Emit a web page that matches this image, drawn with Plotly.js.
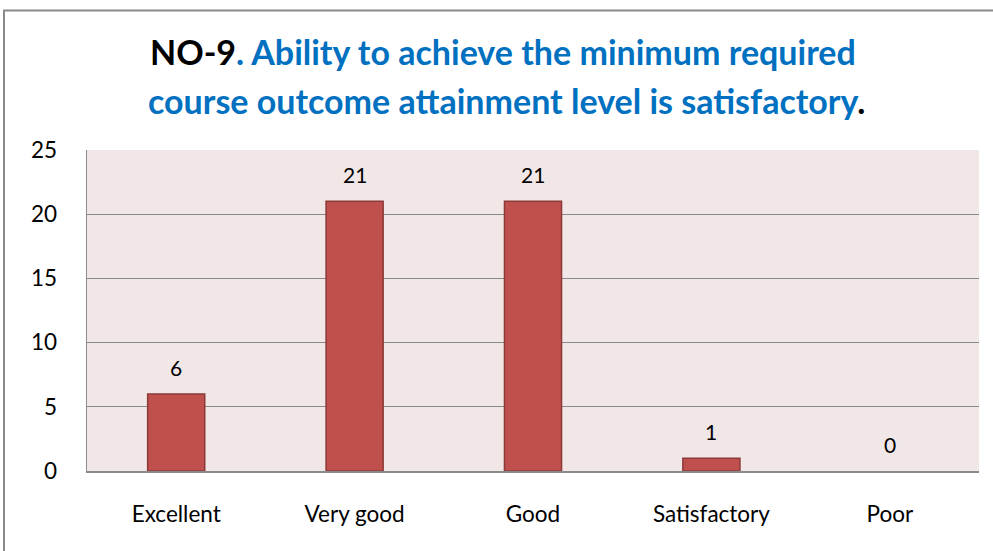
<!DOCTYPE html>
<html><head><meta charset="utf-8">
<script src="https://cdn.plot.ly/plotly-3.0.1.min.js"></script>
<style>body{margin:0;background:#fff}#c{width:993px;height:551px}</style>
</head><body><div id="c"></div>
<script>
const categories = ["Excellent", "Very good", "Good", "Satisfactory", "Poor"];
const counts = [6, 21, 21, 1, 0];
const yTicks = [0, 5, 10, 15, 20, 25];
const titleLines = [
  "<b>NO-9<span style='color:#0070C0'>. Ability to achieve the minimum required</span></b>",
  "<b><span style='color:#0070C0'>course outcome attainment level is satisfactory</span>.</b>"
];

const W = 993, H = 551, L = 87, R = 14, T = 150, B = 80;
const pw = W - L - R, ph = H - T - B;
const px = v => (v - L) / pw;
const py = v => 1 - (v - T) / ph;
const FONT = "Lato, 'Open Sans', sans-serif";

const trace = {
  type: "bar", x: categories, y: counts, width: 0.32,
  marker: {color: "#C0504D", line: {color: "#8C3A38", width: counts.map(v => v > 0 ? 1.5 : 0)}},
  hoverinfo: "skip"
};

const annotations = categories.map((c, i) => ({
  x: c, y: counts[i], xref: "x", yref: "y", text: String(counts[i]),
  showarrow: false, yanchor: "bottom", yshift: 12,
  font: {family: FONT, size: 21, color: "#000"}
}));
const titleY = [52, 100];
const titleX = [503, 506];
titleLines.forEach((t, i) => annotations.push({
  xref: "paper", yref: "paper", x: px(titleX[i]), y: py(titleY[i]), xanchor: "center", yanchor: "middle",
  showarrow: false, text: t,
  font: {family: FONT, size: 34, color: "#000"}
}));

const layout = {
  width: W, height: H,
  margin: {l: L, r: R, t: T, b: B, pad: 0},
  paper_bgcolor: "#fff", plot_bgcolor: "#F2E7E7",
  showlegend: false,
  xaxis: {
    type: "category", showgrid: false, zeroline: false,
    showline: true, linecolor: "#8A8A8A", linewidth: 2,
    ticks: "", ticklabelstandoff: 22,
    tickfont: {family: FONT, size: 22.5, color: "#000"},
    fixedrange: true
  },
  yaxis: {
    range: [0, 25], tickvals: yTicks, ticktext: yTicks.map(String),
    showgrid: true, gridcolor: "#8A8A8A", gridwidth: 1,
    zeroline: false, showline: true, linecolor: "#8A8A8A", linewidth: 1.5,
    ticks: "", ticklabelstandoff: 24,
    tickfont: {family: FONT, size: 22.5, color: "#000"},
    fixedrange: true
  },
  annotations: annotations,
  shapes: [{
    type: "rect", xref: "paper", yref: "paper",
    x0: px(4), x1: px(1000), y0: py(560), y1: py(10.5),
    line: {color: "#8A8A8A", width: 2}, fillcolor: "rgba(0,0,0,0)", layer: "above"
  }]
};
Plotly.newPlot("c", [trace], layout, {displayModeBar: false, staticPlot: true});
</script></body></html>
